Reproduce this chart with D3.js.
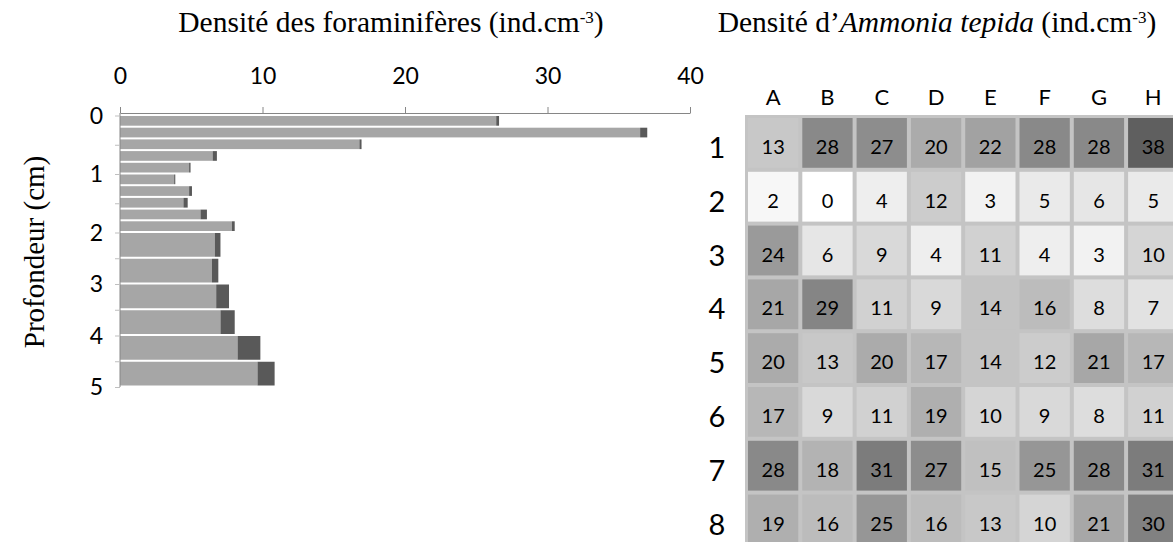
<!DOCTYPE html>
<html><head><meta charset="utf-8">
<script src="https://cdn.jsdelivr.net/npm/d3@7"></script>
<style>body{margin:0;background:#fff}svg{display:block}</style>
</head><body>
<svg id="c" width="1173" height="542"></svg>
<script>
// ---- Bar chart data (depth profile) ----
const depthTop    = [0,0.2,0.4,0.6,0.8,1.0,1.2,1.4,1.6,1.8,2.0,2.5,3.0,3.5,4.0,4.5];
const depthBottom = [0.2,0.4,0.6,0.8,1.0,1.2,1.4,1.6,1.8,2.0,2.5,3.0,3.5,4.0,4.5,5.0];
const densityLight = [26.4,36.5,16.8,6.5,4.85,3.8,4.85,4.45,5.65,7.85,6.65,6.45,6.75,7.05,8.25,9.65];
const densityDark  = [0.2,0.5,0.15,0.3,0.1,0.08,0.2,0.3,0.45,0.2,0.4,0.45,0.9,1.0,1.6,1.2];
const xTicks = [0,10,20,30,40];
const depthLabels = [0,1,2,3,4,5];
const depthTicks = [0,0.5,1,1.5,2,2.5,3,3.5,4,4.5,5];

// ---- Heatmap data (Ammonia tepida) ----
const gridCols = ["A","B","C","D","E","F","G","H"];
const gridRows = ["1","2","3","4","5","6","7","8"];
const tepida = [
  [13,28,27,20,22,28,28,38],
  [2,0,4,12,3,5,6,5],
  [24,6,9,4,11,4,3,10],
  [21,29,11,9,14,16,8,7],
  [20,13,20,17,14,12,21,17],
  [17,9,11,19,10,9,8,11],
  [28,18,31,27,15,25,28,31],
  [19,16,25,16,13,10,21,30]
];

const svg = d3.select("#c");
const serif = "'Liberation Serif','Times New Roman',serif";
const sans = "Lato,'Open Sans',sans-serif";

// ===== Bar chart =====
const x = d3.scaleLinear().domain([0,40]).range([120,690]);
const y = d3.scaleLinear().domain([0,2,5]).range([115.5,232.5,387]);

const bars = depthTop.map((t,i)=>({t, b:depthBottom[i], l:densityLight[i], d:densityDark[i]}));
const gB = svg.append("g");
gB.selectAll("rect.l").data(bars).join("rect")
  .attr("x", x(0)).attr("y", d=>y(d.t)+0.5)
  .attr("width", d=>x(d.l)-x(0)).attr("height", d=>y(d.b)-y(d.t)-2)
  .attr("fill","#a6a6a6");
gB.selectAll("rect.d").data(bars).join("rect")
  .attr("x", d=>x(d.l)).attr("y", d=>y(d.t)+0.5)
  .attr("width", d=>x(d.l+d.d)-x(d.l)).attr("height", d=>y(d.b)-y(d.t)-2)
  .attr("fill","#595959");

// top axis
const axT = svg.append("g").attr("transform","translate(0,113)")
  .call(d3.axisTop(x).tickValues(xTicks).tickSize(6).tickSizeOuter(0).tickPadding(23));
axT.select(".domain").attr("stroke","#868686");
axT.selectAll(".tick line").attr("stroke","#868686");
axT.selectAll(".tick text").attr("font-family",sans).attr("font-size",23).attr("fill","#000");

// left axis
const axL = svg.append("g").attr("transform","translate(120,0)")
  .call(d3.axisLeft(y).tickValues(depthTicks).tickSize(5).tickSizeOuter(0).tickFormat(""));
axL.select(".domain").attr("stroke","#868686").attr("d",`M0,${113}V${y(5)}`);
axL.selectAll(".tick line").attr("stroke","#bfbfbf");
svg.append("g").selectAll("text").data(depthLabels).join("text")
  .attr("x",103).attr("y",d=>y(d)+8).attr("text-anchor","end")
  .attr("font-family",sans).attr("font-size",23).text(d=>d);

// titles
const t1 = svg.append("text").attr("x",391).attr("y",32).attr("text-anchor","middle")
  .attr("font-family",serif).attr("font-size",29.5);
t1.append("tspan").text("Densité des foraminifères (ind.cm");
t1.append("tspan").attr("font-size",17).attr("dy",-9).text("-3");
t1.append("tspan").attr("dy",9).text(")");

svg.append("text").attr("transform","translate(44,252) rotate(-90)").attr("text-anchor","middle")
  .attr("font-family",serif).attr("font-size",29).text("Profondeur (cm)");

const t2 = svg.append("text").attr("x",937).attr("y",32).attr("text-anchor","middle")
  .attr("font-family",serif).attr("font-size",29.5);
t2.append("tspan").text("Densité d\u2019");
t2.append("tspan").attr("font-style","italic").text("Ammonia tepida");
t2.append("tspan").text(" (ind.cm");
t2.append("tspan").attr("font-size",17).attr("dy",-9).text("-3");
t2.append("tspan").attr("dy",9).text(")");

// ===== Heatmap =====
const step = 54.3, stepY = 53.8;
const xh = d3.scaleBand().domain(gridCols).range([745, 745+step*8]);
const yh = d3.scaleBand().domain(gridRows).range([115, 115+stepY*8]);
const col = d3.scaleLinear().domain([0,38]).range(["#ffffff","#5f5f5f"]);

svg.append("rect").attr("x",745).attr("y",115).attr("width",step*8+2).attr("height",stepY*8+2).attr("fill","#c4c4c4");
const cells = [];
tepida.forEach((row,ri)=>row.forEach((v,ci)=>cells.push({r:gridRows[ri],c:gridCols[ci],v})));
const gH = svg.append("g");
gH.selectAll("rect").data(cells).join("rect")
  .attr("x",d=>xh(d.c)+3).attr("y",d=>yh(d.r)+3)
  .attr("width",xh.bandwidth()-4).attr("height",yh.bandwidth()-4)
  .attr("fill",d=>col(d.v));
gH.selectAll("text").data(cells).join("text")
  .attr("x",d=>xh(d.c)+1+xh.bandwidth()/2).attr("y",d=>yh(d.r)+1+yh.bandwidth()/2+11)
  .attr("text-anchor","middle").attr("font-family",sans).attr("font-size",20).text(d=>d.v);

svg.append("g").selectAll("text").data(gridCols).join("text")
  .attr("x",d=>xh(d)+1+xh.bandwidth()/2).attr("y",105).attr("text-anchor","middle")
  .attr("font-family",sans).attr("font-size",22).text(d=>d);
svg.append("g").selectAll("text").data(gridRows).join("text")
  .attr("x",717).attr("y",d=>yh(d)+1+yh.bandwidth()/2+15).attr("text-anchor","middle")
  .attr("font-family",sans).attr("font-size",29).text(d=>d);
</script>
</body></html>
